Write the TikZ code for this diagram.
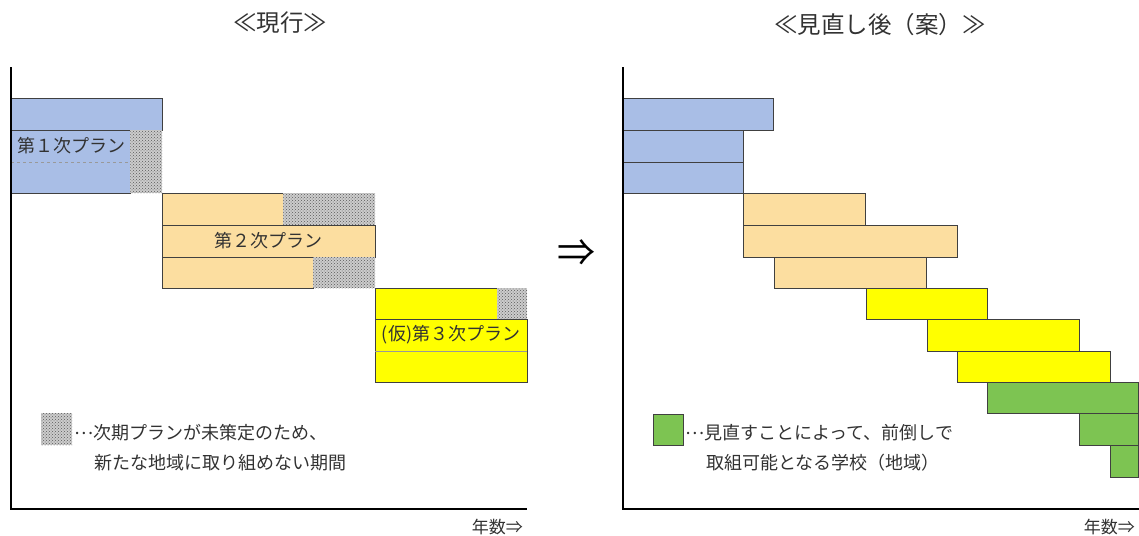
\documentclass[tikz,border=0pt]{standalone}
\usepackage{fontspec}
\setmainfont{Noto Sans CJK JP}
\usetikzlibrary{patterns}
\definecolor{planblue}{RGB}{169,190,230}
\definecolor{planorange}{RGB}{252,222,160}
\definecolor{planyellow}{RGB}{255,255,0}
\definecolor{plangreen}{RGB}{125,196,82}
\definecolor{txt}{RGB}{50,50,50}
\newcommand{\middots}{\raisebox{5pt}{…}}
\tikzset{
  bar/.style={draw=black!75, line width=0.8pt},
  blank/.style={fill=gray!40, postaction={pattern=crosshatch dots, pattern color=gray!70!black}},
  divider/.style={draw=black!40, line width=0.6pt},
  axis/.style={line width=2pt, black},
  lbl/.style={font=\fontsize{18}{20}\selectfont, text=txt, inner sep=0pt},
  legtxt/.style={font=\fontsize{18}{20}\selectfont, text=txt, inner sep=0pt, anchor=west},
  ttl/.style={font=\fontsize{23.5}{26}\selectfont, text=txt, inner sep=0pt},
  yrs/.style={font=\fontsize{17}{19}\selectfont, text=txt, inner sep=0pt, anchor=east}
}
\begin{document}
\begin{tikzpicture}[x=1pt,y=-1pt]
\useasboundingbox (0,0) rectangle (1139,535);
\clip (0,0) rectangle (1139,535);
% ===== left chart =====
\node[ttl] (t1) at (280,23) {≪現行≫};
% plan 1
\draw[bar, fill=planblue] (11,98) rectangle (162,130);
\draw[bar, fill=planblue] (11,130) rectangle (130,193);
\draw[divider, dashed] (11,162) -- (130,162);
\fill[blank] (130.4,130.4) rectangle (162,193);
\node[lbl] (p1) at (71,146) {第１次プラン};
% plan 2
\draw[bar, fill=planorange] (162,193) rectangle (283,225);
\fill[blank] (283.4,193) rectangle (375,225);
\draw[bar, fill=planorange] (162,225) rectangle (375,257);
\draw[bar, fill=planorange] (162,257) rectangle (313,288);
\fill[blank] (313.4,257.4) rectangle (375,288);
\node[lbl] (p2) at (268,241) {第２次プラン};
% plan 3
\draw[bar, fill=planyellow] (375,288) rectangle (497,319);
\fill[blank] (497.4,288) rectangle (527,319);
\draw[bar, fill=planyellow] (375,319) rectangle (527,382);
\draw[divider] (375,351) -- (527,351);
\node[lbl] (p3) at (451,335) {(仮)第３次プラン};
% legend
\fill[blank] (41,413) rectangle (72,445);
\node[legtxt] (l1) at (74,433) {\middots 次期プランが未策定のため、};
\node[legtxt] (l2) at (94,463) {新たな地域に取り組めない期間};
% axes
\coordinate (ya) at (11,67);
\coordinate (o1) at (11,509);
\coordinate (xa) at (527,509);
\draw[axis] (ya) -- (o1) -- (xa);
\node[yrs] (y1) at (523,527) {年数⇒};
% ===== middle arrow =====
\node[font=\fontsize{38}{42}\selectfont, inner sep=0pt] (arr) at (576,253) {⇒};
% ===== right chart =====
\node[ttl] (t2) at (880,25) {≪見直し後（案）≫};
\draw[bar, fill=planblue] (623,98) rectangle (773,130);
\draw[bar, fill=planblue] (623,130) rectangle (743,162);
\draw[bar, fill=planblue] (623,162) rectangle (743,193);
\draw[bar, fill=planorange] (743,193) rectangle (865,225);
\draw[bar, fill=planorange] (743,225) rectangle (957,257);
\draw[bar, fill=planorange] (774,257) rectangle (926,288);
\draw[bar, fill=planyellow] (866,288) rectangle (987,319);
\draw[bar, fill=planyellow] (927,319) rectangle (1079,351);
\draw[bar, fill=planyellow] (957,351) rectangle (1110,382);
\draw[bar, fill=plangreen] (987,382) rectangle (1138,413);
\draw[bar, fill=plangreen] (1079,413) rectangle (1138,445);
\draw[bar, fill=plangreen] (1110,445) rectangle (1138,477);
% legend
\draw[bar, fill=plangreen] (653,414) rectangle (683,445);
\node[legtxt] (r1) at (685,433) {\middots 見直すことによって、前倒しで};
\node[legtxt] (r2) at (706,463) {取組可能となる学校（地域）};
% axes
\coordinate (yb) at (623,67);
\coordinate (o2) at (623,509);
\coordinate (xb) at (1139,509);
\draw[axis] (yb) -- (o2) -- (xb);
\node[yrs] (y2) at (1135,527) {年数⇒};
\end{tikzpicture}
\end{document}
